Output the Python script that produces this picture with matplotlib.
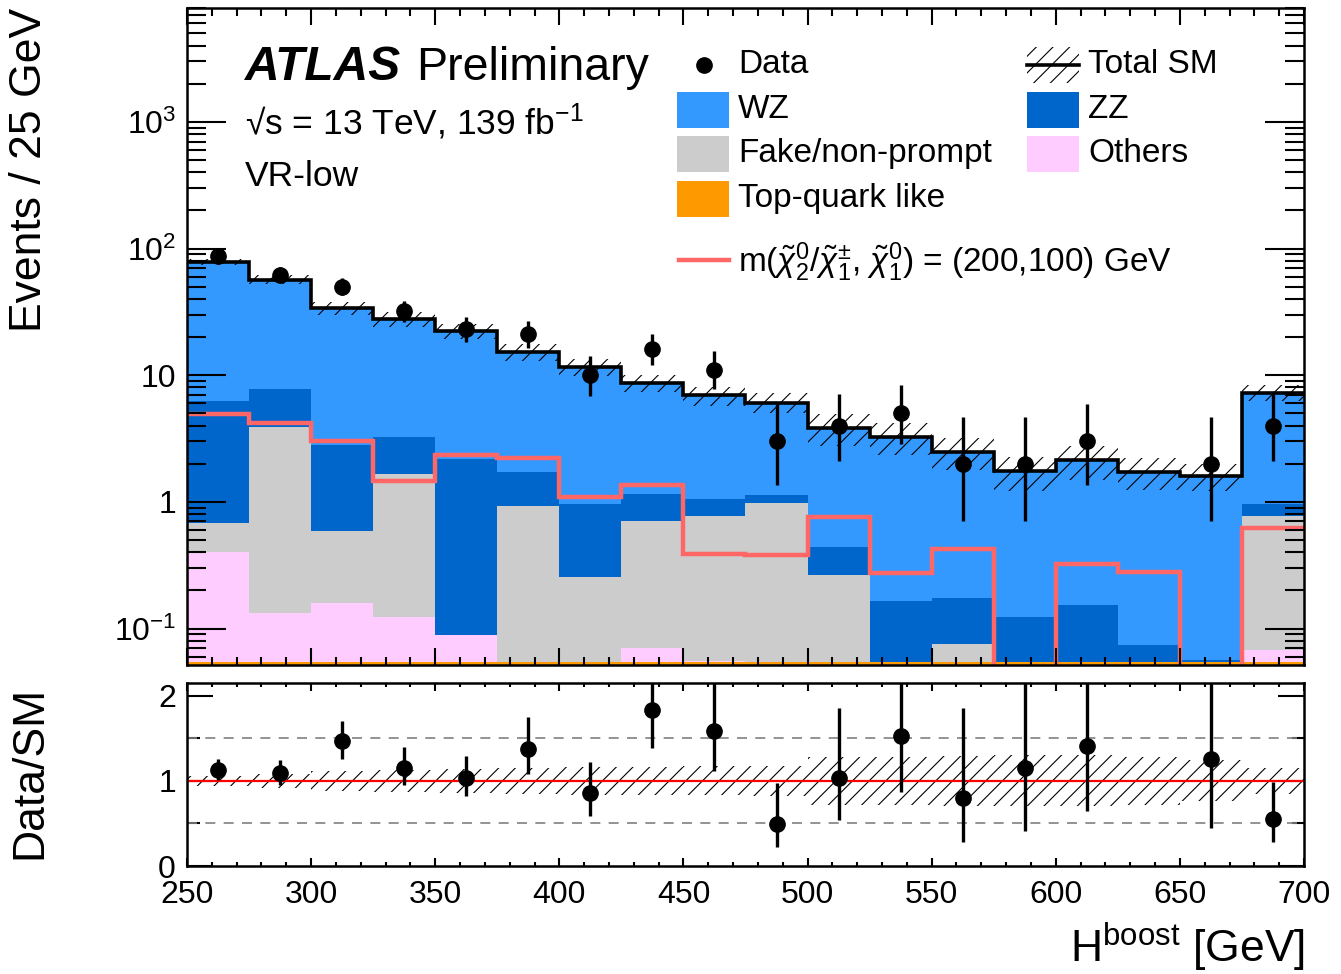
import math
import numpy as np
import matplotlib
matplotlib.use('Agg')
import matplotlib.pyplot as plt
from matplotlib.patches import Rectangle
import matplotlib.ticker as ticker

plt.rcParams['font.family'] = ['Liberation Sans', 'DejaVu Sans']
plt.rcParams['mathtext.fontset'] = 'custom'
plt.rcParams['mathtext.rm'] = 'Liberation Sans'
plt.rcParams['mathtext.it'] = 'Liberation Sans:italic'
plt.rcParams['mathtext.bf'] = 'Liberation Sans:bold'
plt.rcParams['hatch.linewidth'] = 0.8

# H_boost bins [GeV]
bin_edges = [250, 275, 300, 325, 350, 375, 400, 425, 450, 475,
             500, 525, 550, 575, 600, 625, 650, 675, 700]

# backgrounds, stacked bottom -> top
top_quark = [0.054] * 18
others = [0.349, 0.079, 0.106, 0.070, 0.035, 0.0, 0.0, 0.016, 0.001,
          0.0, 0.0, 0.0, 0.0, 0.0, 0.0, 0.0, 0.0, 0.014]
fake = [0.277, 3.77, 0.43, 1.55, 0.0, 0.88, 0.20, 0.63, 0.72,
        0.92, 0.21, 0.0, 0.021, 0.0, 0.0, 0.0, 0.0, 0.70]
zz = [5.59, 3.90, 2.24, 1.59, 2.11, 0.79, 0.71, 0.45, 0.28,
      0.16, 0.18, 0.11, 0.10, 0.07, 0.10, 0.02, 0.002, 0.19]
wz = [71.9, 49.1, 31.2, 24.5, 20.1, 13.5, 10.7, 7.56, 5.89,
      4.95, 3.41, 3.10, 2.32, 1.62, 1.97, 1.65, 1.54, 6.34]

# relative uncertainty of total SM
sm_unc = [0.06, 0.08, 0.12, 0.13, 0.14, 0.15, 0.16, 0.16, 0.17,
          0.18, 0.28, 0.28, 0.29, 0.30, 0.30, 0.28, 0.24, 0.15]

signal = [4.98, 4.23, 3.01, 1.46, 2.36, 2.24, 1.09, 1.35, 0.39,
          0.384, 0.76, 0.272, 0.428, 0.01, 0.326, 0.28, 0.01, 0.62]

data = [88, 62, 50, 32, 23, 21, 10, 16, 11, 3, 4, 5, 2, 2, 3, 0, 2, 4]

c_wz = '#3399ff'
c_zz = '#0066cc'
c_fake = '#cccccc'
c_others = '#ffccff'
c_top = '#ff9900'
c_sig = '#ff6666'


def pois_cdf(k, mu):
    term = math.exp(-mu)
    s = term
    for i in range(1, k + 1):
        term *= mu / i
        s += term
    return s


def bisect(f, lo, hi):
    # f decreasing in mu
    for _ in range(100):
        mid = 0.5 * (lo + hi)
        if f(mid) > 0:
            lo = mid
        else:
            hi = mid
    return 0.5 * (lo + hi)


def garwood(n):
    ''' 68% Poisson interval '''
    a = 0.5 * (1 - 0.6827)
    up = bisect(lambda mu: pois_cdf(n, mu) - a, n, n + 10 * math.sqrt(n) + 10)
    if n == 0:
        return 0.0, up
    lo = bisect(lambda mu: pois_cdf(n - 1, mu) - (1 - a), 0.0, n)
    return lo, up


edges = np.array(bin_edges, dtype=float)
centers = 0.5 * (edges[1:] + edges[:-1])
data = np.array(data, dtype=float)

fig = plt.figure(figsize=(13.41, 9.74), dpi=100)
W, H = 1341., 974.
ax = fig.add_axes([187 / W, 1 - 664.5 / H, 1117 / W, 657 / H])
rax = fig.add_axes([187 / W, 1 - 866 / H, 1117 / W, 183 / H])

ax.set_yscale('log')

# stack
cum = np.full(len(centers), 1e-4)
for vals, col in [(top_quark, c_top), (others, c_others), (fake, c_fake),
                  (zz, c_zz), (wz, c_wz)]:
    new = cum + np.array(vals)
    ax.stairs(new, edges, baseline=cum, fill=True, color=col, lw=0)
    cum = new
total = cum
unc = np.array(sm_unc)

ax.stairs(total * (1 + unc), edges, baseline=total * (1 - unc), fill=True,
          facecolor='none', edgecolor='black', hatch='//', lw=0)
ax.stairs(total, edges, baseline=None, color='black', lw=2.6)
ax.stairs(signal, edges, baseline=None, color=c_sig, lw=3.2)

# data
mask = data > 0
errs = np.array([garwood(int(n)) for n in data])
ax.errorbar(centers[mask], data[mask],
            yerr=[data[mask] - errs[mask, 0], errs[mask, 1] - data[mask]],
            fmt='o', color='black', ms=11, elinewidth=2.4, capsize=0)

ax.set_xlim(250, 700)
ax.set_ylim(0.052, 8000)

ax.yaxis.set_major_locator(ticker.FixedLocator([0.1, 1, 10, 100, 1000]))
ax.yaxis.set_major_formatter(ticker.FixedFormatter(
    [r'$10^{-1}$', '1', '10', r'$10^{2}$', r'$10^{3}$']))
ax.yaxis.set_minor_locator(ticker.LogLocator(base=10, subs=np.arange(2, 10), numticks=20))
ax.yaxis.set_minor_formatter(ticker.NullFormatter())
ax.xaxis.set_major_locator(ticker.MultipleLocator(50))
ax.xaxis.set_minor_locator(ticker.MultipleLocator(10))
ax.tick_params(axis='both', which='both', direction='in', top=True, right=True,
               labelsize=23, width=1.5)
ax.tick_params(axis='y', which='major', length=28, pad=8)
ax.tick_params(axis='y', which='minor', length=14)
ax.tick_params(axis='x', which='major', length=12)
ax.tick_params(axis='x', which='minor', length=5.5)
ax.tick_params(axis='x', labelbottom=False)
for s in ax.spines.values():
    s.set_linewidth(1.8)

# labels
ax.text(0.052, 0.8896, 'ATLAS', transform=ax.transAxes, fontsize=34.5,
        fontweight='bold', style='italic', va='baseline')
ax.text(0.205, 0.8896, 'Preliminary', transform=ax.transAxes, fontsize=33.5,
        va='baseline')
ax.text(0.052, 0.8075, r'√s = 13 TeV, 139 fb$^{\mathrm{-1}}$', transform=ax.transAxes,
        fontsize=25.5, va='baseline')
ax.text(0.052, 0.7283, 'VR-low', transform=ax.transAxes, fontsize=25.5,
        va='baseline')

# legend
bw, bh = 52 / 1117., 36 / 657.
rows = [0.9125, 0.8440, 0.7771, 0.7086]
x1, t1 = 0.4387, 0.4933
x2, t2 = 0.7520, 0.8066
ax.plot([0.4629], [rows[0]], 'o', color='black', ms=11, transform=ax.transAxes)
ax.text(t1, rows[0], 'Data', transform=ax.transAxes, fontsize=24, va='center')
ax.add_patch(Rectangle((x2, rows[0] - bh / 2), bw, bh, transform=ax.transAxes,
                       facecolor='none', edgecolor='black', hatch='//', lw=0))
ax.plot([x2, x2 + bw], [rows[0], rows[0]], color='black', lw=2.6,
        transform=ax.transAxes)
ax.text(t2, rows[0], 'Total SM', transform=ax.transAxes, fontsize=24, va='center')
entries = [(x1, t1, rows[1], c_wz, 'WZ'), (x2, t2, rows[1], c_zz, 'ZZ'),
           (x1, t1, rows[2], c_fake, 'Fake/non-prompt'),
           (x2, t2, rows[2], c_others, 'Others'),
           (x1, t1, rows[3], c_top, 'Top-quark like')]
for bx, tx, ry, col, lab in entries:
    ax.add_patch(Rectangle((bx, ry - bh / 2), bw, bh, transform=ax.transAxes,
                           facecolor=col, edgecolor='none'))
    ax.text(tx, ry, lab, transform=ax.transAxes, fontsize=24, va='center')
ax.plot([0.4405, 0.4852], [0.6157, 0.6157], color=c_sig, lw=3.2,
        transform=ax.transAxes)
ax.text(t1, 0.6127,
        r'm($\tilde{\chi}^{0}_{2}$/$\tilde{\chi}^{\pm}_{1}$, $\tilde{\chi}^{0}_{1}$) = (200,100) GeV',
        transform=ax.transAxes, fontsize=24, va='center')

# ratio panel
rax.stairs(1 + unc, edges, baseline=1 - unc, fill=True, facecolor='none',
           edgecolor='black', hatch='//', lw=0)
rax.axhline(1.0, color='red', lw=1.6)
rax.axhline(0.5, color='grey', lw=1.2, ls=(0, (6, 5)))
rax.axhline(1.5, color='grey', lw=1.2, ls=(0, (6, 5)))
ratio = data / total
rax.errorbar(centers[mask], ratio[mask],
             yerr=[(data[mask] - errs[mask, 0]) / total[mask],
                   (errs[mask, 1] - data[mask]) / total[mask]],
             fmt='o', color='black', ms=11, elinewidth=2.4, capsize=0)
rax.set_xlim(250, 700)
rax.set_ylim(0, 2.15)
rax.yaxis.set_major_locator(ticker.MultipleLocator(1))
rax.yaxis.set_minor_locator(ticker.MultipleLocator(0.5))
rax.xaxis.set_major_locator(ticker.MultipleLocator(50))
rax.xaxis.set_minor_locator(ticker.MultipleLocator(10))
rax.tick_params(axis='both', which='both', direction='in', top=True, right=True,
                labelsize=23, width=1.5)
rax.tick_params(axis='y', which='major', length=19, pad=8)
rax.tick_params(axis='y', which='minor', length=9)
rax.tick_params(axis='x', which='major', length=5.5, pad=10)
rax.tick_params(axis='x', which='minor', length=3)
for s in rax.spines.values():
    s.set_linewidth(1.8)

fig.text(30 / W, 1 - 8 / H, 'Events / 25 GeV', rotation=90, fontsize=32,
         ha='center', va='top')
fig.text(30 / W, 1 - 772 / H, 'Data/SM', rotation=90, fontsize=32,
         ha='center', va='center')
fig.text(1305 / W, 1 - 962 / H, r'H$^{\mathrm{boost}}$ [GeV]', fontsize=32,
         ha='right', va='baseline')

fig.savefig('out.png', dpi=100)
